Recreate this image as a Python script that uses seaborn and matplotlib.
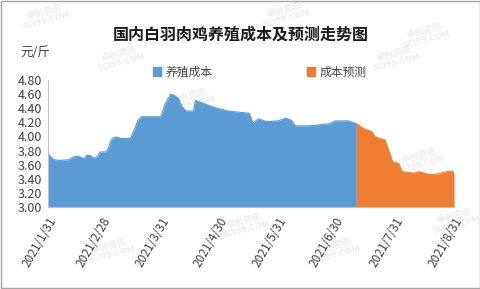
import matplotlib
matplotlib.use("Agg")
import matplotlib.pyplot as plt
import seaborn as sns
import pandas as pd

sns.set_theme(style="white")
plt.rcParams['font.family'] = ['Noto Sans CJK SC', 'DejaVu Sans']

title = "国内白羽肉鸡养殖成本及预测走势图"
unit_label = "元/斤"
series_names = ["养殖成本", "成本预测"]

cost_dates = ["2021-01-31", "2021-02-01", "2021-02-03", "2021-02-06", "2021-02-11", "2021-02-13",
              "2021-02-16", "2021-02-19", "2021-02-20", "2021-02-22", "2021-02-24", "2021-02-26",
              "2021-02-27", "2021-03-02", "2021-03-03", "2021-03-05", "2021-03-07", "2021-03-08",
              "2021-03-10", "2021-03-15", "2021-03-17", "2021-03-19", "2021-03-21", "2021-03-31",
              "2021-04-02", "2021-04-05", "2021-04-07", "2021-04-09", "2021-04-11", "2021-04-13",
              "2021-04-17", "2021-04-18", "2021-04-21", "2021-04-28", "2021-05-05", "2021-05-12",
              "2021-05-16", "2021-05-18", "2021-05-21", "2021-05-25", "2021-05-31", "2021-06-04",
              "2021-06-07", "2021-06-09", "2021-06-16", "2021-06-20", "2021-06-27", "2021-06-30",
              "2021-07-07", "2021-07-11"]
cost_values = [3.76, 3.72, 3.67, 3.66, 3.67, 3.71,
               3.72, 3.68, 3.73, 3.73, 3.69, 3.72,
               3.78, 3.78, 3.80, 3.95, 3.99, 3.99,
               3.97, 3.97, 4.09, 4.23, 4.28, 4.28,
               4.45, 4.60, 4.58, 4.54, 4.42, 4.36,
               4.36, 4.51, 4.48, 4.41, 4.36, 4.34,
               4.33, 4.19, 4.25, 4.21, 4.22, 4.26,
               4.23, 4.15, 4.15, 4.16, 4.18, 4.22,
               4.22, 4.18]

fc_dates = ["2021-07-11", "2021-07-15", "2021-07-19", "2021-07-21", "2021-07-26", "2021-07-30",
            "2021-08-02", "2021-08-04", "2021-08-10", "2021-08-13", "2021-08-18", "2021-08-23",
            "2021-08-27", "2021-08-30", "2021-08-31"]
fc_values = [4.18, 4.11, 4.07, 3.99, 3.95, 3.64,
             3.62, 3.50, 3.48, 3.50, 3.46, 3.47,
             3.50, 3.51, 3.48]

tick_dates = ["2021-01-31", "2021-02-28", "2021-03-31", "2021-04-30",
              "2021-05-31", "2021-06-30", "2021-07-31", "2021-08-31"]
tick_labels = ["2021/1/31", "2021/2/28", "2021/3/31", "2021/4/30",
               "2021/5/31", "2021/6/30", "2021/7/31", "2021/8/31"]
y_ticks = [3.00, 3.20, 3.40, 3.60, 3.80, 4.00, 4.20, 4.40, 4.60, 4.80]

blue = "#5B9BD5"
orange = "#ED7D31"

df_cost = pd.DataFrame({"date": pd.to_datetime(cost_dates), "value": cost_values})
df_fc = pd.DataFrame({"date": pd.to_datetime(fc_dates), "value": fc_values})

fig = plt.figure(figsize=(4.81, 2.89), dpi=100)
fig.patch.set_facecolor("white")
ax = fig.add_axes([48 / 481, 1 - 207 / 289, (454 - 48) / 481, (207 - 80) / 289])

sns.lineplot(data=df_cost, x="date", y="value", ax=ax, color=blue, lw=0.8, legend=False)
sns.lineplot(data=df_fc, x="date", y="value", ax=ax, color=orange, lw=0.8, legend=False)
ax.fill_between(df_cost["date"], 3.0, df_cost["value"], color=blue, lw=0)
ax.fill_between(df_fc["date"], 3.0, df_fc["value"], color=orange, lw=0)

ax.set_xlim(pd.Timestamp(tick_dates[0]), pd.Timestamp(tick_dates[-1]))
ax.set_ylim(3.0, 4.8)
ax.set_yticks(y_ticks)
ax.set_yticklabels([f"{v:.2f}" for v in y_ticks], fontsize=9, color="#404040")
ax.set_xticks(pd.to_datetime(tick_dates))
ax.set_xticklabels(tick_labels, rotation=60, ha="right", rotation_mode="anchor", fontsize=8.5, color="#404040")
ax.set_xlabel("")
ax.set_ylabel("")
ax.patch.set_alpha(0)
for s in ["top", "right"]:
    ax.spines[s].set_visible(False)
for s in ["left", "bottom"]:
    ax.spines[s].set_color("#bfbfbf")
    ax.spines[s].set_linewidth(0.8)
ax.tick_params(axis="x", length=3, width=0.6, color="#bfbfbf", pad=3, direction="out")
ax.tick_params(axis="y", length=0, pad=4)

# faint watermarks
wm = [(45, 16), (285, 14), (425, 35), (120, 58), (395, 58), (190, 100),
      (420, 160), (245, 225), (335, 250), (110, 250), (455, 220)]
for (px, py) in wm:
    fig.text(px / 481, 1 - py / 289, "卓创资讯\nSCI99.COM", color="#9a9a9a", alpha=0.18, fontsize=6.5,
             rotation=15, ha="center", va="center", fontweight="bold", linespacing=0.9, zorder=5)

fig.text(0.5, 1 - 35 / 289, title, ha="center", va="center", fontsize=11.5, fontweight="bold", color="#1a1a1a")
fig.text(20 / 481, 1 - 53 / 289, unit_label, ha="left", va="center", fontsize=9, color="#404040")

handles = [plt.Rectangle((0, 0), 1, 1, color=blue), plt.Rectangle((0, 0), 1, 1, color=orange)]
leg = fig.legend(handles, series_names, loc="center", bbox_to_anchor=(0.54, 1 - 72 / 289), ncol=2,
                 frameon=False, fontsize=8.5, handlelength=0.7, handleheight=0.7, handletextpad=0.4,
                 columnspacing=8.0)
for t in leg.get_texts():
    t.set_color("#404040")

border = plt.Rectangle((0.002, 0.003), 0.995, 0.994, transform=fig.transFigure, fill=False,
                       edgecolor="#a6a6a6", lw=1.0)
fig.patches.append(border)

fig.savefig("out.png", dpi=100)
